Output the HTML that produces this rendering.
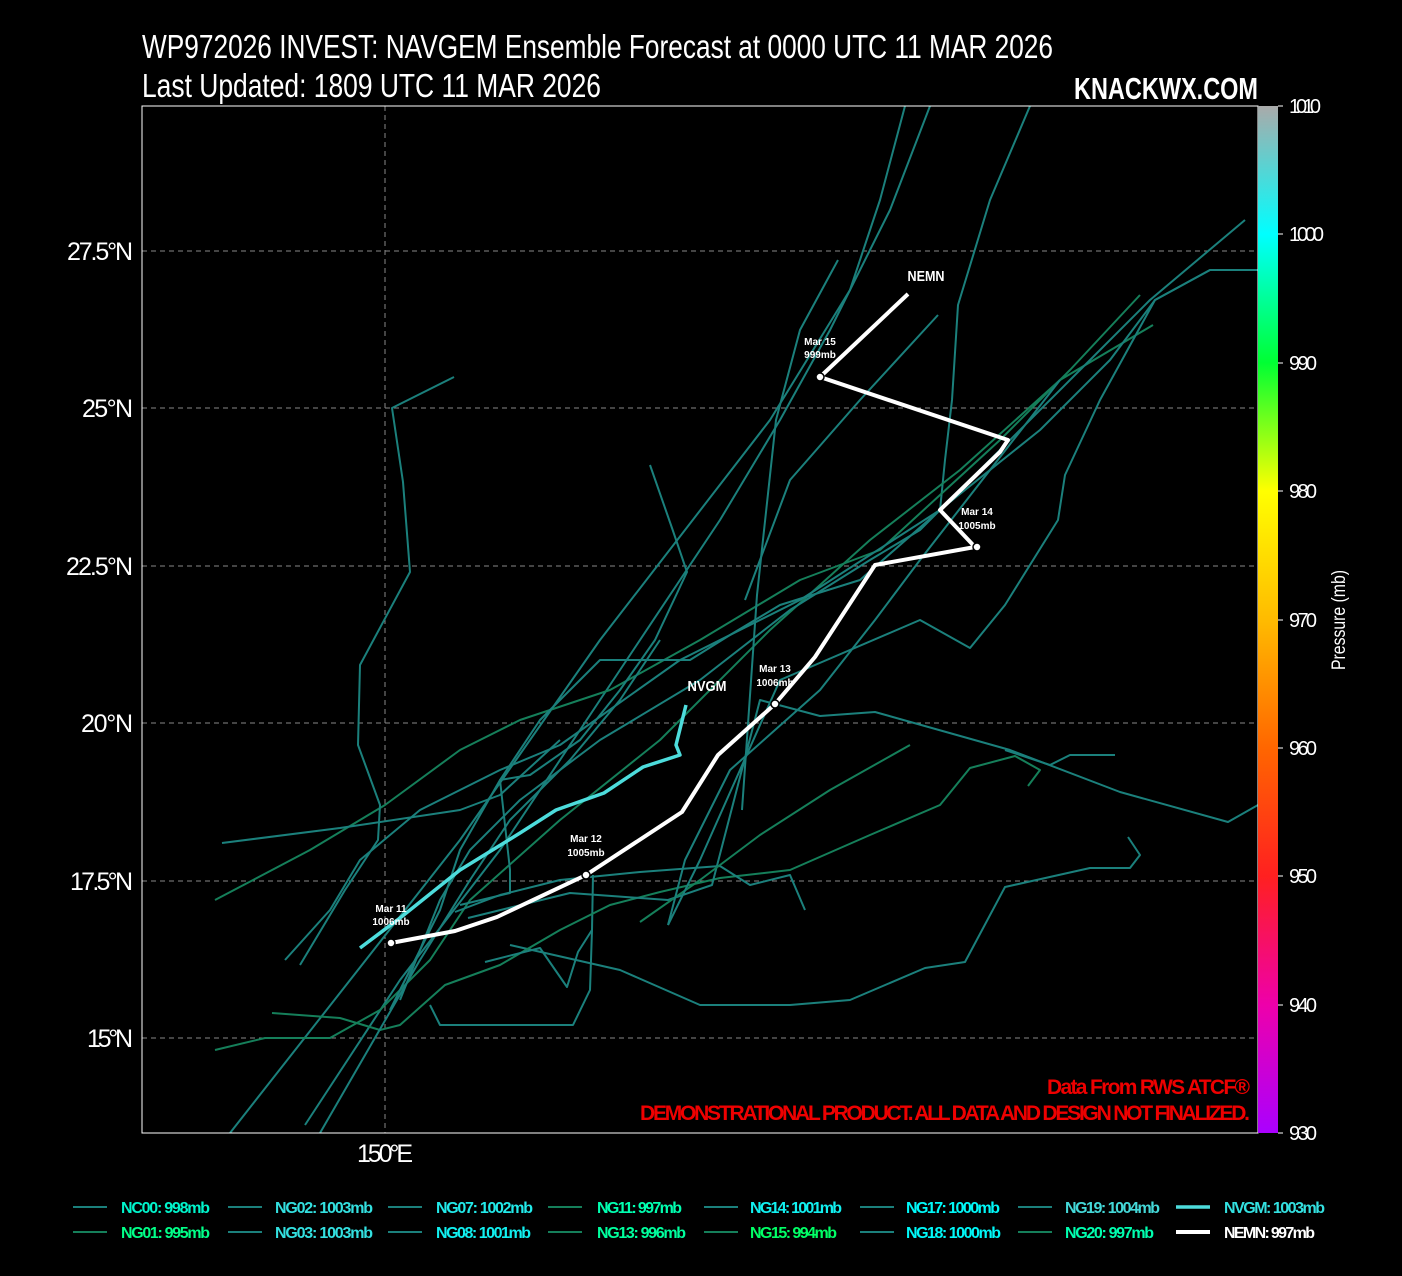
<!DOCTYPE html>
<html><head><meta charset="utf-8"><style>
html,body{margin:0;padding:0;background:#000;}
svg{display:block;font-family:"Liberation Sans Narrow","Liberation Sans",sans-serif;}
</style></head><body>
<svg width="1402" height="1276" viewBox="0 0 1402 1276" xmlns="http://www.w3.org/2000/svg">
<defs>
<linearGradient id="cb" x1="0" y1="1" x2="0" y2="0">
<stop offset="0" stop-color="#aa00ff"/>
<stop offset="0.125" stop-color="#ee00aa"/>
<stop offset="0.25" stop-color="#ff2020"/>
<stop offset="0.375" stop-color="#ff6600"/>
<stop offset="0.5" stop-color="#ffbb00"/>
<stop offset="0.625" stop-color="#ffff00"/>
<stop offset="0.75" stop-color="#00ff33"/>
<stop offset="0.875" stop-color="#00ffff"/>
<stop offset="1" stop-color="#aaaaaa"/>
</linearGradient>
<clipPath id="pc"><rect x="142" y="106" width="1116" height="1027"/></clipPath>
</defs>
<rect width="1402" height="1276" fill="#000"/>
<text x="142" y="58" fill="#fff" font-size="33" textLength="911" lengthAdjust="spacingAndGlyphs">WP972026 INVEST: NAVGEM Ensemble Forecast at 0000 UTC 11 MAR 2026</text>
<text x="142" y="97" fill="#fff" font-size="33" textLength="459" lengthAdjust="spacingAndGlyphs">Last Updated: 1809 UTC 11 MAR 2026</text>
<text x="1074" y="99" fill="#fff" font-size="31" font-weight="bold" textLength="184" lengthAdjust="spacingAndGlyphs">KNACKWX.COM</text>
<g stroke="#888" stroke-dasharray="5,4" stroke-width="1">
<line x1="142" y1="251" x2="1258" y2="251"/><line x1="142" y1="408" x2="1258" y2="408"/>
<line x1="142" y1="566" x2="1258" y2="566"/><line x1="142" y1="723" x2="1258" y2="723"/>
<line x1="142" y1="881" x2="1258" y2="881"/><line x1="142" y1="1038" x2="1258" y2="1038"/>
<line x1="385" y1="106" x2="385" y2="1133"/>
</g>
<g clip-path="url(#pc)" fill="none" stroke="#1b807c" stroke-width="2" stroke-linejoin="round">
<polyline points="230,1133 460,840 600,640 770,420 850,290 880,200 905,106"/>
<polyline points="305,1125 400,980 500,850 600,700 720,520 780,420 830,330 890,210 930,106"/>
<polyline points="1030,106 990,200 958,305 952,400 945,460 940,510"/>
<polyline stroke="#157f5a" points="215,900 310,850 385,805 460,750 520,720 610,690 700,640 800,580 880,550 1000,440 1070,370 1140,295"/>
<polyline stroke="#157f5a" points="215,1050 265,1038 330,1038 380,1010 430,960 470,900 560,820 660,740 770,630 870,540 960,470 1060,380 1153,325"/>
<polyline points="285,960 330,910 360,860 420,810 500,770 560,745 680,660 800,600 940,510 1040,430 1110,360 1155,300 1210,270 1258,270"/>
<polyline points="400,1000 440,900 470,850 520,800 600,740 700,680 790,610 870,560 920,530 1000,450 1080,370 1150,300 1245,220"/>
<polyline points="510,945 620,970 700,1005 790,1005 850,1000 925,968 965,962 1005,887 1090,868 1130,868 1140,855 1128,837"/>
<polyline points="430,1005 440,1025 573,1025 590,990 592,930 593,875"/>
<polyline stroke="#157f5a" points="272,1013 340,1018 380,1030 400,1025 445,985 500,965 560,930 610,905 660,892 720,878 790,870 870,835 940,805 970,768 1015,756 1040,770 1028,786"/>
<polyline points="222,843 340,828 460,810 500,795 560,740"/>
<polyline points="390,1010 440,910 460,850 500,780 540,720 600,660 690,660 730,635 780,605 860,580 940,510"/>
<polyline points="455,912 500,895 560,880 640,872 720,866 750,885 790,875 805,910"/>
<polyline points="468,918 570,893 668,900 712,885 760,700 820,716 875,712 1010,750 1120,792 1228,822 1258,805"/>
<polyline stroke="#157f5a" points="640,922 700,880 760,835 830,790 910,745"/>
<polyline points="454,377 392,408 403,482 410,572 360,665 358,745 380,805 378,840 345,890 300,965"/>
<polyline points="650,465 672,528 687,572 655,640 620,690 580,740 530,775 500,780 510,870 510,893 460,905"/>
<polyline points="485,962 540,948 567,987 578,952 592,930"/>
<polyline points="742,810 757,595 776,420 800,330 838,260"/>
<polyline points="668,925 685,860 730,770 820,690 875,620 920,560 990,470 1060,380"/>
<polyline points="1005,750 1050,765 1070,755 1115,755"/>
<polyline points="668,925 700,860 780,680 920,620 970,648 1005,605 1058,520 1065,475 1100,400 1155,300 1210,270"/>
<polyline points="745,600 790,480 860,400 938,315"/>
<polyline points="320,1133 420,960 470,880 510,820 570,760 620,700 660,640"/>
</g>
<polyline fill="none" stroke="#4ddcdc" stroke-width="3.5" stroke-linejoin="round" points="360,948 400,918 460,870 520,833 556,810 604,793 643,767 680,755 676,745 686,705"/>
<polyline fill="none" stroke="#fff" stroke-width="4" stroke-linejoin="round" points="391,943 455,931 497,917 586,875 682,812 718,755 775,704 815,657 875,565 975,547 940,510 1000,452 1008,440 820,377 908,294"/>
<g fill="#fff" stroke="#000" stroke-width="1.5">
<circle cx="391" cy="943" r="4"/><circle cx="586" cy="875" r="4"/><circle cx="775" cy="704" r="4"/><circle cx="977" cy="547" r="4"/><circle cx="820" cy="377" r="4"/>
</g>
<g fill="#fff" font-size="10" font-weight="bold" text-anchor="middle">
<text x="391" y="912">Mar 11</text><text x="391" y="925">1006mb</text>
<text x="586" y="842">Mar 12</text><text x="586" y="856">1005mb</text>
<text x="775" y="672">Mar 13</text><text x="775" y="686">1006mb</text>
<text x="977" y="515">Mar 14</text><text x="977" y="529">1005mb</text>
<text x="820" y="345">Mar 15</text><text x="820" y="358">999mb</text>
</g>
<text x="926" y="281" fill="#fff" font-size="15" font-weight="bold" text-anchor="middle" textLength="37" lengthAdjust="spacingAndGlyphs">NEMN</text>
<text x="707" y="691" fill="#fff" font-size="15" font-weight="bold" text-anchor="middle" textLength="39" lengthAdjust="spacingAndGlyphs">NVGM</text>
<rect x="142" y="106" width="1116" height="1027" fill="none" stroke="#fff" stroke-width="1"/>
<g fill="#fff" font-size="25" lengthAdjust="spacingAndGlyphs">
<text x="67" y="260" textLength="66">27.5°N</text><text x="82" y="417" textLength="51">25°N</text><text x="66" y="575" textLength="67">22.5°N</text>
<text x="81" y="732" textLength="52">20°N</text><text x="70" y="890" textLength="63">17.5°N</text><text x="87" y="1047" textLength="46">15°N</text>
<text x="357" y="1162" textLength="56">150°E</text>
</g>
<g fill="#e00" font-size="21" font-weight="bold" lengthAdjust="spacingAndGlyphs">
<text x="1047" y="1094" textLength="203">Data From RWS ATCF®</text>
<text x="640" y="1120" textLength="610">DEMONSTRATIONAL PRODUCT. ALL DATA AND DESIGN NOT FINALIZED.</text>
</g>
<rect x="1258" y="106" width="20" height="1027" fill="url(#cb)"/>
<g stroke="#fff" stroke-width="1">
<line x1="1278" y1="106" x2="1283" y2="106"/><line x1="1278" y1="234" x2="1283" y2="234"/><line x1="1278" y1="363" x2="1283" y2="363"/>
<line x1="1278" y1="491" x2="1283" y2="491"/><line x1="1278" y1="620" x2="1283" y2="620"/><line x1="1278" y1="748" x2="1283" y2="748"/>
<line x1="1278" y1="876" x2="1283" y2="876"/><line x1="1278" y1="1005" x2="1283" y2="1005"/><line x1="1278" y1="1133" x2="1283" y2="1133"/>
</g>
<g fill="#fff" font-size="20" lengthAdjust="spacingAndGlyphs">
<text x="1289" y="113" textLength="32">1010</text><text x="1289" y="241" textLength="35">1000</text><text x="1289" y="370" textLength="28">990</text>
<text x="1289" y="498" textLength="28">980</text><text x="1289" y="627" textLength="28">970</text><text x="1289" y="755" textLength="28">960</text>
<text x="1289" y="883" textLength="28">950</text><text x="1289" y="1012" textLength="28">940</text><text x="1289" y="1140" textLength="28">930</text>
</g>
<text transform="translate(1345,620) rotate(-90)" fill="#fff" font-size="19" text-anchor="middle" textLength="100" lengthAdjust="spacingAndGlyphs">Pressure (mb)</text>
<g font-size="16" font-weight="bold" lengthAdjust="spacingAndGlyphs">
<g stroke-width="2">
<line x1="73" y1="1207" x2="107" y2="1207" stroke="#1b807c"/><line x1="73" y1="1232" x2="107" y2="1232" stroke="#157f5a"/>
<line x1="228" y1="1207" x2="262" y2="1207" stroke="#1b807c"/><line x1="228" y1="1232" x2="262" y2="1232" stroke="#1b807c"/>
<line x1="388" y1="1207" x2="422" y2="1207" stroke="#1b807c"/><line x1="388" y1="1232" x2="422" y2="1232" stroke="#1b807c"/>
<line x1="548" y1="1207" x2="582" y2="1207" stroke="#157f5a"/><line x1="548" y1="1232" x2="582" y2="1232" stroke="#157f5a"/>
<line x1="704" y1="1207" x2="738" y2="1207" stroke="#1b807c"/><line x1="704" y1="1232" x2="738" y2="1232" stroke="#157f5a"/>
<line x1="860" y1="1207" x2="894" y2="1207" stroke="#1b807c"/><line x1="860" y1="1232" x2="894" y2="1232" stroke="#1b807c"/>
<line x1="1018" y1="1207" x2="1052" y2="1207" stroke="#1b807c"/><line x1="1018" y1="1232" x2="1052" y2="1232" stroke="#157f5a"/>
<line x1="1176" y1="1207" x2="1210" y2="1207" stroke="#4ddcdc" stroke-width="3.5"/><line x1="1176" y1="1232" x2="1210" y2="1232" stroke="#fff" stroke-width="4"/>
</g>
<text x="121" y="1213" fill="#00f5cc" textLength="89">NC00: 998mb</text><text x="121" y="1238" fill="#00ff88" textLength="89">NG01: 995mb</text>
<text x="275" y="1213" fill="#33e0e0" textLength="98">NG02: 1003mb</text><text x="275" y="1238" fill="#33e0e0" textLength="98">NG03: 1003mb</text>
<text x="436" y="1213" fill="#22eaea" textLength="97">NG07: 1002mb</text><text x="436" y="1238" fill="#11f0f0" textLength="95">NG08: 1001mb</text>
<text x="597" y="1213" fill="#00ffb0" textLength="85">NG11: 997mb</text><text x="597" y="1238" fill="#00ff9e" textLength="89">NG13: 996mb</text>
<text x="750" y="1213" fill="#11f0f0" textLength="92">NG14: 1001mb</text><text x="750" y="1238" fill="#00ff66" textLength="87">NG15: 994mb</text>
<text x="906" y="1213" fill="#00f8f8" textLength="94">NG17: 1000mb</text><text x="906" y="1238" fill="#00f8f8" textLength="95">NG18: 1000mb</text>
<text x="1065" y="1213" fill="#44d8d8" textLength="95">NG19: 1004mb</text><text x="1065" y="1238" fill="#00ffb0" textLength="89">NG20: 997mb</text>
<text x="1224" y="1213" fill="#33e0e0" textLength="101">NVGM: 1003mb</text><text x="1224" y="1238" fill="#fff" textLength="91">NEMN: 997mb</text>
</g>
</svg>
</body></html>
